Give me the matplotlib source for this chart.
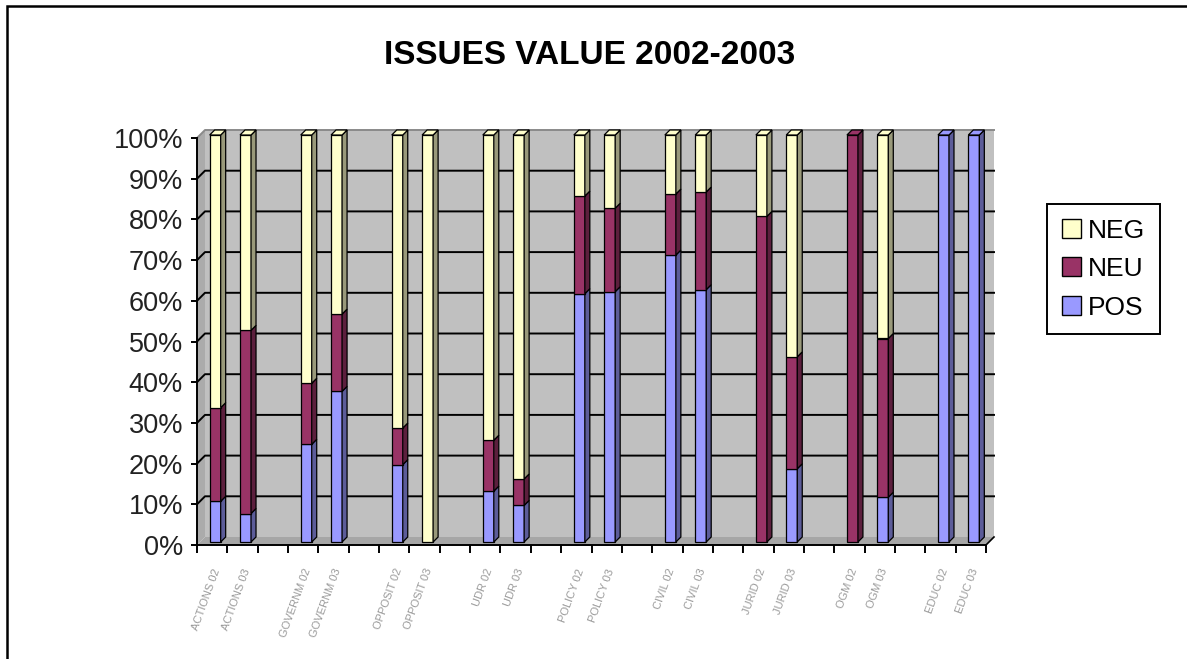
import matplotlib
matplotlib.use("Agg")
import matplotlib.pyplot as plt
from matplotlib.patches import Polygon, Rectangle, Patch
from matplotlib.colors import to_rgb

# slots on the category axis, empty strings are the gaps between issues
categories = [
    "ACTIONS 02", "ACTIONS 03", "",
    "GOVERNM 02", "GOVERNM 03", "",
    "OPPOSIT 02", "OPPOSIT 03", "",
    "UDR 02", "UDR 03", "",
    "POLICY 02", "POLICY 03", "",
    "CIVIL 02", "CIVIL 03", "",
    "JURID 02", "JURID 03", "",
    "OGM 02", "OGM 03", "",
    "EDUC 02", "EDUC 03",
]
pos = [10, 7, None, 24, 37, None, 19, 0, None, 12.5, 9, None, 61, 61.5, None,
       70.5, 62, None, 0, 18, None, 0, 11, None, 100, 100]
neu = [23, 45, None, 15, 19, None, 9, 0, None, 12.5, 6.5, None, 24, 20.5, None,
       15, 24, None, 80, 27.5, None, 100, 39, None, 0, 0]
neg = [67, 48, None, 61, 44, None, 72, 100, None, 75, 84.5, None, 15, 18, None,
       14.5, 14, None, 20, 54.5, None, 0, 50, None, 0, 0]
y_ticks = [0, 10, 20, 30, 40, 50, 60, 70, 80, 90, 100]

colors = {"POS": "#9999FF", "NEU": "#993366", "NEG": "#FFFFCC"}

FIG_W, FIG_H = 1187, 659
AX_L, AX_R, AX_T, AX_B = 197, 986, 138, 545
n_slots = len(categories)
px_x = (AX_R - AX_L) / n_slots
px_y = (AX_B - AX_T) / 100.0


def shade(color, k=0.6):
    return tuple(c * k for c in to_rgb(color))


plt.rcParams["font.family"] = ["Liberation Sans", "DejaVu Sans"]
fig = plt.figure(figsize=(FIG_W / 100, FIG_H / 100), dpi=100)
fig.patch.set_facecolor("white")

ax = fig.add_axes([AX_L / FIG_W, 1 - AX_B / FIG_H,
                   (AX_R - AX_L) / FIG_W, (AX_B - AX_T) / FIG_H])
ax.set_xlim(0, n_slots)
ax.set_ylim(0, 100)
ax.set_facecolor("none")

# 3d depth of the walls and of the bars, in data units
wx, wy = 8 / px_x, 8 / px_y
fx, fy = 3 / px_x, 3 / px_y
bx, by = 5 / px_x, 5 / px_y
bar_w = 11 / px_x

ax.add_patch(Rectangle((wx, wy), n_slots, 100, facecolor="#C0C0C0",
                       edgecolor="none", zorder=0, clip_on=False))
ax.add_patch(Polygon([(0, 0), (wx, wy), (wx, 100 + wy), (0, 100)],
                     facecolor="#ABABAB", edgecolor="none", zorder=0, clip_on=False))
ax.add_patch(Polygon([(0, 0), (n_slots, 0), (n_slots + wx, wy), (wx, wy)],
                     facecolor="#A6A6A6", edgecolor="none", zorder=0, clip_on=False))
for t in y_ticks[1:]:
    ax.plot([0, wx, n_slots + wx], [t, t + wy, t + wy],
            color="black" if t < 100 else "#8a8a8a", lw=1.4, zorder=1, clip_on=False)
ax.plot([n_slots, n_slots + wx], [0, wy], color="black", lw=1.2, zorder=1, clip_on=False)

# stacked 3d columns
for i in range(n_slots):
    if pos[i] is None:
        continue
    bottom = 0.0
    top_color = None
    x0 = i + 0.5 - bar_w / 2 + fx
    for name, vals in (("POS", pos), ("NEU", neu), ("NEG", neg)):
        h = vals[i]
        if not h:
            continue
        y0 = bottom + fy
        ax.bar(x0, h, width=bar_w, bottom=y0, align="edge", color=colors[name],
               edgecolor="black", linewidth=0.9, zorder=3, clip_on=False)
        ax.add_patch(Polygon([(x0 + bar_w, y0), (x0 + bar_w + bx, y0 + by),
                              (x0 + bar_w + bx, y0 + h + by), (x0 + bar_w, y0 + h)],
                             facecolor=shade(colors[name]), edgecolor="black",
                             linewidth=0.9, zorder=3, clip_on=False))
        bottom += h
        top_color = colors[name]
    y1 = bottom + fy
    ax.add_patch(Polygon([(x0, y1), (x0 + bx, y1 + by), (x0 + bar_w + bx, y1 + by),
                          (x0 + bar_w, y1)], facecolor=top_color, edgecolor="black",
                         linewidth=0.9, zorder=3, clip_on=False))

for side in ("top", "right"):
    ax.spines[side].set_visible(False)
for side in ("left", "bottom"):
    ax.spines[side].set_color("black")
    ax.spines[side].set_linewidth(1.4)

ax.set_yticks(y_ticks)
ax.set_yticklabels([f"{t}%" for t in y_ticks], fontsize=19.5, color="#222222")
ax.tick_params(axis="y", length=4, width=1.4, pad=6)

ax.set_xticks(range(n_slots + 1), minor=True)
ax.set_xticks([i + 0.5 for i in range(n_slots)])
ax.set_xticklabels(categories, rotation=70, ha="right", rotation_mode="anchor",
                   fontsize=8, color="#9a9a9a")
ax.tick_params(axis="x", which="major", length=0, pad=16)
ax.tick_params(axis="x", which="minor", length=6, width=1.4)

fig.text(0.497, 1 - 55 / FIG_H, "ISSUES VALUE 2002-2003", ha="center", va="center",
         fontsize=24, fontweight="bold")

handles = [Patch(facecolor=colors[n], edgecolor="black") for n in ("NEG", "NEU", "POS")]
leg = fig.legend(handles, ["NEG", "NEU", "POS"], loc="upper left",
                 bbox_to_anchor=(1047 / FIG_W, 1 - 204 / FIG_H), fontsize=19,
                 frameon=True, fancybox=False, edgecolor="black", framealpha=1,
                 handlelength=0.75, handleheight=0.75, handletextpad=0.25,
                 labelspacing=0.55, borderpad=0.55, borderaxespad=0)
leg.get_frame().set_linewidth(1.4)

# outer chart border (only left and top edges fall inside the picture)
fig.patches.append(Rectangle((7 / FIG_W, -0.1), 2, 1 - 6 / FIG_H + 0.1,
                             transform=fig.transFigure, fill=False,
                             edgecolor="black", linewidth=1.8))

fig.savefig("out.png", dpi=100)
